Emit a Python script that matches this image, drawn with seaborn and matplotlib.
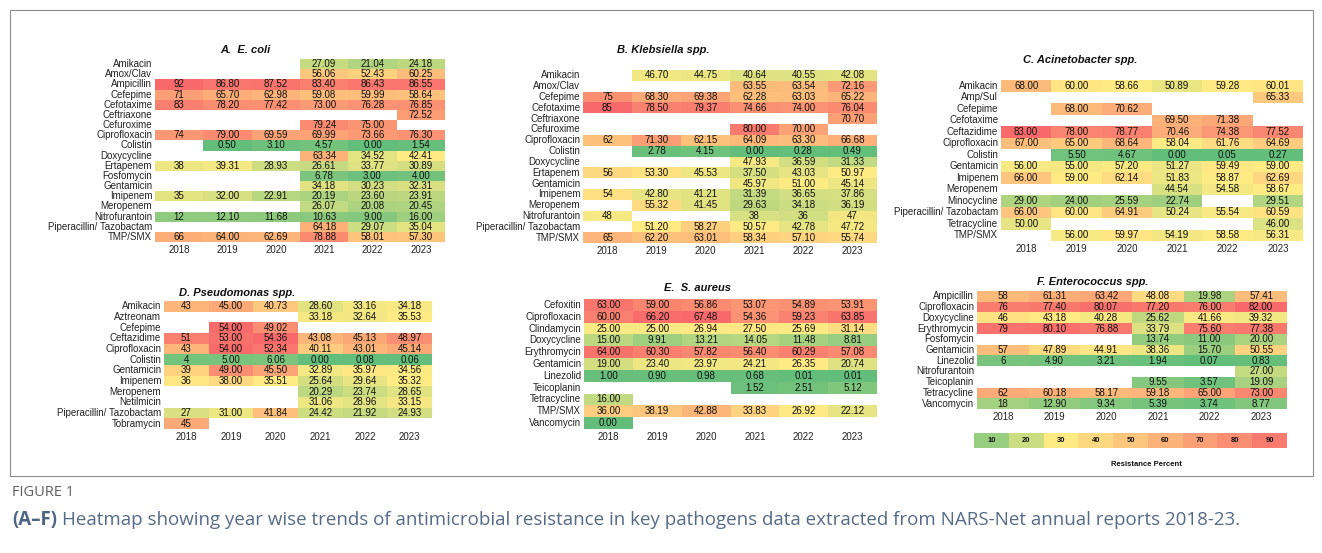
import numpy as np
import pandas as pd
import matplotlib
matplotlib.use("Agg")
import matplotlib.pyplot as plt
import seaborn as sns
from matplotlib.colors import LinearSegmentedColormap, TwoSlopeNorm
from matplotlib.patches import Rectangle

YEARS = ["2018", "2019", "2020", "2021", "2022", "2023"]

# A. E. coli
ECOLI_DRUGS = ["Amikacin", "Amox/Clav", "Ampicillin", "Cefepime", "Cefotaxime",
               "Ceftriaxone", "Cefuroxime", "Ciprofloxacin", "Colistin", "Doxycycline",
               "Ertapenem", "Fosfomycin", "Gentamicin", "Imipenem", "Meropenem",
               "Nitrofurantoin", "Piperacillin/ Tazobactam", "TMP/SMX"]
ECOLI_VALUES = [
    ["", "", "", "27.09", "21.04", "24.18"],
    ["", "", "", "56.06", "52.43", "60.25"],
    ["92", "86.80", "87.52", "83.40", "86.43", "86.55"],
    ["71", "65.70", "62.98", "59.08", "59.99", "58.64"],
    ["83", "78.20", "77.42", "73.00", "76.28", "76.85"],
    ["", "", "", "", "", "72.52"],
    ["", "", "", "79.24", "75.00", ""],
    ["74", "79.00", "69.59", "69.99", "73.66", "76.30"],
    ["", "0.50", "3.10", "4.57", "0.00", "1.54"],
    ["", "", "", "63.34", "34.52", "42.41"],
    ["38", "39.31", "28.93", "26.61", "33.77", "30.89"],
    ["", "", "", "6.78", "3.00", "4.00"],
    ["", "", "", "34.18", "30.23", "32.31"],
    ["35", "32.00", "22.91", "20.19", "23.60", "23.91"],
    ["", "", "", "26.07", "20.08", "20.45"],
    ["12", "12.10", "11.68", "10.63", "9.00", "16.00"],
    ["", "", "", "64.18", "29.07", "35.04"],
    ["66", "64.00", "62.69", "78.88", "58.01", "57.30"],
]

# B. Klebsiella spp.
KLEB_DRUGS = ["Amikacin", "Amox/Clav", "Cefepime", "Cefotaxime", "Ceftriaxone",
              "Cefuroxime", "Ciprofloxacin", "Colistin", "Doxycycline", "Ertapenem",
              "Gentamicin", "Imipenem", "Meropenem", "Nitrofurantoin",
              "Piperacillin/ Tazobactam", "TMP/SMX"]
KLEB_VALUES = [
    ["", "46.70", "44.75", "40.64", "40.55", "42.08"],
    ["", "", "", "63.55", "63.54", "72.16"],
    ["75", "68.30", "69.38", "62.28", "63.03", "65.22"],
    ["85", "78.50", "79.37", "74.66", "74.00", "76.04"],
    ["", "", "", "", "", "70.70"],
    ["", "", "", "80.00", "70.00", ""],
    ["62", "71.30", "62.15", "64.09", "63.30", "66.68"],
    ["", "2.78", "4.15", "0.00", "0.28", "0.49"],
    ["", "", "", "47.93", "36.59", "31.33"],
    ["56", "53.30", "45.53", "37.50", "43.03", "50.97"],
    ["", "", "", "45.97", "51.00", "45.14"],
    ["54", "42.80", "41.21", "31.39", "36.65", "37.86"],
    ["", "55.32", "41.45", "29.63", "34.18", "36.19"],
    ["48", "", "", "38", "36", "47"],
    ["", "51.20", "58.27", "50.57", "42.78", "47.72"],
    ["65", "62.20", "63.01", "58.34", "57.10", "55.74"],
]

# C. Acinetobacter spp.
ACIN_DRUGS = ["Amikacin", "Amp/Sul", "Cefepime", "Cefotaxime", "Ceftazidime",
              "Ciprofloxacin", "Colistin", "Gentamicin", "Imipenem", "Meropenem",
              "Minocycline", "Piperacillin/ Tazobactam", "Tetracycline", "TMP/SMX"]
ACIN_VALUES = [
    ["68.00", "60.00", "58.66", "50.89", "59.28", "60.01"],
    ["", "", "", "", "", "65.33"],
    ["", "68.00", "70.62", "", "", ""],
    ["", "", "", "69.50", "71.38", ""],
    ["83.00", "78.00", "78.77", "70.46", "74.38", "77.52"],
    ["67.00", "65.00", "68.64", "58.04", "61.76", "64.69"],
    ["", "5.50", "4.67", "0.00", "0.05", "0.27"],
    ["56.00", "55.00", "57.20", "51.27", "59.49", "59.00"],
    ["66.00", "59.00", "62.14", "51.83", "58.87", "62.69"],
    ["", "", "", "44.54", "54.58", "58.67"],
    ["29.00", "24.00", "25.59", "22.74", "", "29.51"],
    ["66.00", "60.00", "64.91", "50.24", "55.54", "60.59"],
    ["50.00", "", "", "", "", "46.00"],
    ["", "56.00", "59.97", "54.19", "58.58", "56.31"],
]

# D. Pseudomonas spp.
PSEU_DRUGS = ["Amikacin", "Aztreonam", "Cefepime", "Ceftazidime", "Ciprofloxacin",
              "Colistin", "Gentamicin", "Imipenem", "Meropenem", "Netilmicin",
              "Piperacillin/ Tazobactam", "Tobramycin"]
PSEU_VALUES = [
    ["43", "45.00", "40.73", "28.60", "33.16", "34.18"],
    ["", "", "", "33.18", "32.64", "35.53"],
    ["", "54.00", "49.02", "", "", ""],
    ["51", "53.00", "54.36", "43.08", "45.13", "48.97"],
    ["43", "54.00", "52.34", "40.11", "43.01", "45.14"],
    ["4", "5.00", "6.06", "0.00", "0.08", "0.06"],
    ["39", "49.00", "45.50", "32.89", "35.97", "34.56"],
    ["36", "38.00", "35.51", "25.64", "29.64", "35.32"],
    ["", "", "", "20.29", "23.74", "28.65"],
    ["", "", "", "31.06", "28.96", "33.15"],
    ["27", "31.00", "41.84", "24.42", "21.92", "24.93"],
    ["45", "", "", "", "", ""],
]

# E. S. aureus
SAUR_DRUGS = ["Cefoxitin", "Ciprofloxacin", "Clindamycin", "Doxycycline",
              "Erythromycin", "Gentamicin", "Linezolid", "Teicoplanin",
              "Tetracycline", "TMP/SMX", "Vancomycin"]
SAUR_VALUES = [
    ["63.00", "59.00", "56.86", "53.07", "54.89", "53.91"],
    ["60.00", "66.20", "67.48", "54.36", "59.23", "63.85"],
    ["25.00", "25.00", "26.94", "27.50", "25.69", "31.14"],
    ["15.00", "9.91", "13.21", "14.05", "11.48", "8.81"],
    ["64.00", "60.30", "57.82", "56.40", "60.29", "57.08"],
    ["19.00", "23.40", "23.97", "24.21", "26.35", "20.74"],
    ["1.00", "0.90", "0.98", "0.68", "0.01", "0.01"],
    ["", "", "", "1.52", "2.51", "5.12"],
    ["16.00", "", "", "", "", ""],
    ["36.00", "38.19", "42.88", "33.83", "26.92", "22.12"],
    ["0.00", "", "", "", "", ""],
]

# F. Enterococcus spp.
ENT_DRUGS = ["Ampicillin", "Ciprofloxacin", "Doxycycline", "Erythromycin",
             "Fosfomycin", "Gentamicin", "Linezolid", "Nitrofurantoin",
             "Teicoplanin", "Tetracycline", "Vancomycin"]
ENT_VALUES = [
    ["58", "61.31", "63.42", "48.08", "19.98", "57.41"],
    ["76", "77.40", "80.07", "77.20", "76.00", "82.00"],
    ["46", "43.18", "40.28", "25.62", "41.66", "39.32"],
    ["79", "80.10", "76.88", "33.79", "75.60", "77.38"],
    ["", "", "", "13.74", "11.00", "20.00"],
    ["57", "47.89", "44.91", "38.36", "15.70", "50.55"],
    ["6", "4.90", "3.21", "1.94", "0.07", "0.83"],
    ["", "", "", "", "", "27.00"],
    ["", "", "", "9.55", "3.57", "19.09"],
    ["62", "60.18", "58.17", "59.18", "65.00", "73.00"],
    ["18", "12.90", "9.34", "5.39", "3.74", "8.77"],
]

LEGEND_STEPS = [10, 20, 30, 40, 50, 60, 70, 80, 90]

plt.rcParams["font.family"] = ["Liberation Sans", "DejaVu Sans"]

W, H = 1322, 553
fig = plt.figure(figsize=(W / 100, H / 100), dpi=100)
cmap = LinearSegmentedColormap.from_list("amr", ["#63BE7B", "#FFEB84", "#F8696B"])


def px_axes(left, top, right, bottom):
    return fig.add_axes([left / W, 1 - bottom / H, (right - left) / W, (bottom - top) / H])


def draw_panel(box, drugs, cells, title, title_xy):
    labels = pd.DataFrame(cells, index=drugs, columns=YEARS)
    values = labels.apply(pd.to_numeric, errors="coerce")
    flat = values.stack()
    # excel style 3-colour scale: min / median / max of the panel
    norm = TwoSlopeNorm(vmin=flat.min(), vcenter=flat.median(), vmax=flat.max())
    ax = px_axes(*box)
    sns.heatmap(values, ax=ax, cmap=cmap, norm=norm, annot=labels.values, fmt="",
                cbar=False, xticklabels=True, yticklabels=True,
                annot_kws=dict(size=7, color="#111111"))
    ax.set_xlabel("")
    ax.set_ylabel("")
    ax.set_yticklabels(drugs, rotation=0, fontsize=7, color="#222222")
    ax.set_xticklabels(YEARS, rotation=0, fontsize=7, color="#222222")
    ax.tick_params(length=0, pad=2)
    fig.text(title_xy[0] / W, 1 - title_xy[1] / H, title, ha="center", va="center",
             fontsize=8, fontweight="bold", fontstyle="italic", color="#111111")
    return ax


draw_panel((155, 59, 445, 242), ECOLI_DRUGS, ECOLI_VALUES, "A.  E. coli", (245, 50))
draw_panel((583, 70, 877, 243), KLEB_DRUGS, KLEB_VALUES, "B. Klebsiella spp.", (663, 50))
draw_panel((1001, 80, 1303, 241), ACIN_DRUGS, ACIN_VALUES, "C. Acinetobacter spp.", (1080, 60))
draw_panel((164, 301, 432, 429), PSEU_DRUGS, PSEU_VALUES, "D. Pseudomonas spp.", (237, 293))
draw_panel((584, 299, 877, 429), SAUR_DRUGS, SAUR_VALUES, "E.  S. aureus", (697, 288))
draw_panel((977, 291, 1287, 409), ENT_DRUGS, ENT_VALUES, "F. Enterococcus spp.", (1093, 282))

# colour key
lax = px_axes(974, 433, 1287, 448)
steps = pd.DataFrame([LEGEND_STEPS], columns=[str(s) for s in LEGEND_STEPS])
sns.heatmap(steps, ax=lax, cmap=cmap, norm=TwoSlopeNorm(vmin=0, vcenter=30, vmax=100),
            annot=True, fmt="d", cbar=False,
            annot_kws=dict(size=5.5, color="#111111", fontweight="bold"))
lax.set_xticks([])
lax.set_yticks([])
lax.set_xlabel("")
lax.set_ylabel("")
fig.text(1146 / W, 1 - 464 / H, "Resistance Percent", ha="center", va="center",
         fontsize=5.5, fontweight="bold", color="#111111")

# border of the figure image
fig.add_artist(Rectangle((10 / W, 1 - 476 / H), 1303 / W, 466 / H, transform=fig.transFigure,
                         fill=False, edgecolor="#8c8c8c", lw=0.8))

# caption
fig.text(12 / W, 1 - 492 / H, "FIGURE 1", ha="left", va="center", fontsize=10.5,
         family=["Open Sans", "DejaVu Sans"], color="#5f5f5f")
bold = fig.text(12 / W, 1 - 520 / H, "(A\u2013F)", ha="left", va="center", fontsize=13.5,
                fontweight="bold", family=["Open Sans", "DejaVu Sans"], color="#4d6583")
renderer = fig.canvas.get_renderer()
ext = bold.get_window_extent(renderer)
fig.text((ext.x1 + 5) / W, 1 - 520 / H,
         "Heatmap showing year wise trends of antimicrobial resistance in key pathogens "
         "data extracted from NARS-Net annual reports 2018-23.",
         ha="left", va="center", fontsize=13.5, family=["Open Sans", "DejaVu Sans"],
         color="#566b86")

fig.savefig("out.png", dpi=100)
